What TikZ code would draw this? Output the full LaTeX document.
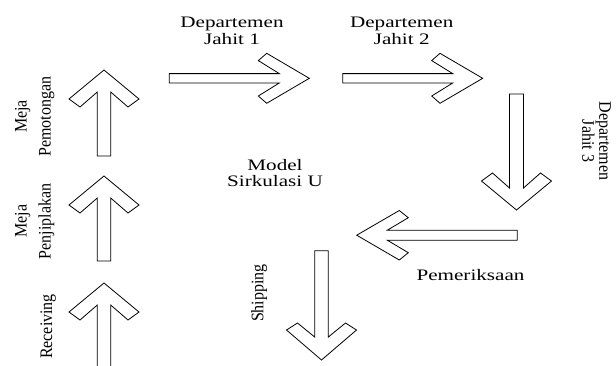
\documentclass[tikz,border=0pt]{standalone}
\usepackage{fontspec}
\setmainfont{Liberation Serif}
\usepackage{graphicx}

\tikzset{
  flowarrow/.style={draw=black, line width=0.8pt, line join=miter, fill=white},
  caption/.style={inner sep=0pt, anchor=base},
}
% horizontal caption: wide-set serif text, lines centred
\newcommand{\hcap}[2]{\scalebox{1.32}[1]{\fontsize{16}{#1}\selectfont\begin{tabular}[t]{@{}c@{}}#2\end{tabular}}}
% caption set along a vertical arrow
\newcommand{\vcap}[2]{\scalebox{1}[1.1]{\fontsize{16}{#1}\selectfont\begin{tabular}[t]{@{}c@{}}#2\end{tabular}}}

\begin{document}
\begin{tikzpicture}[x=1pt,y=-1pt]
\useasboundingbox (0,0) rectangle (616,365);

% --- left column: upward block arrows ---
% Meja Pemotongan
\draw[flowarrow] (104,70) -- (139,99) -- (128,107) -- (110.7,92) -- (110.7,156)
  -- (97.3,156) -- (97.3,92) -- (80,107) -- (69,99) -- cycle;
% Meja Penjiplakan
\draw[flowarrow] (104,176) -- (139,205) -- (128,213) -- (110.7,198) -- (110.7,261)
  -- (97.3,261) -- (97.3,198) -- (80,213) -- (69,205) -- cycle;
% Receiving (shaft runs off the bottom edge)
\draw[flowarrow] (104,283) -- (139,312) -- (128,320) -- (110.7,305) -- (110.7,372)
  -- (97.3,372) -- (97.3,305) -- (80,320) -- (69,312) -- cycle;

% --- top row: rightward block arrows ---
% Departemen Jahit 1
\draw[flowarrow] (309.3,78.3) -- (266.7,103.3) -- (258.3,96) -- (279.3,83) -- (169.3,83)
  -- (169.3,73.6) -- (279.3,73.6) -- (258.3,60.6) -- (266.7,53.3) -- cycle;
% Departemen Jahit 2
\draw[flowarrow] (482.7,78.3) -- (440,103.3) -- (431.7,96) -- (452.7,83) -- (342.7,83)
  -- (342.7,73.6) -- (452.7,73.6) -- (431.7,60.6) -- (440,53.3) -- cycle;

% --- right side: downward arrow (Departemen Jahit 3) ---
\draw[flowarrow] (516.5,210) -- (551.5,181) -- (540.5,173) -- (523.5,188) -- (523.5,94)
  -- (509.5,94) -- (509.5,188) -- (492.5,173) -- (481.5,181) -- cycle;

% --- leftward arrow (Pemeriksaan) ---
\draw[flowarrow] (356.7,235.2) -- (399.3,210.5) -- (408.3,217.7) -- (387.3,230.2) -- (517.3,230.2)
  -- (517.3,240.2) -- (387.3,240.2) -- (408.3,252.7) -- (399.3,260) -- cycle;

% --- downward arrow (Shipping) ---
\draw[flowarrow] (321.5,360) -- (356.5,330) -- (345.5,323) -- (328.3,337) -- (328.3,250.7)
  -- (314.7,250.7) -- (314.7,337) -- (297.5,323) -- (286.5,330) -- cycle;

% --- captions ---
\node[caption] (jahit1) at (232,27.3) {\hcap{17.2}{Departemen\\Jahit 1}};
\node[caption] (jahit2) at (401.7,27.3) {\hcap{17.2}{Departemen\\Jahit 2}};
\node[caption] (model) at (275,170) {\hcap{16.7}{Model\\Sirkulasi U}};
\node[caption] (periksa) at (470.5,280.5) {\hcap{17}{Pemeriksaan}};
\node[caption, rotate=90] (potong) at (26.7,116.5) {\vcap{21.8}{Meja\\Pemotongan}};
\node[caption, rotate=90] (jiplak) at (26.7,221.3) {\vcap{21.8}{Meja\\Penjiplakan}};
\node[caption, rotate=90] (receive) at (52,326.5) {\vcap{17}{Receiving}};
\node[caption, rotate=90] (ship) at (263.3,293) {\vcap{17}{Shipping}};
\node[caption, rotate=-90] (jahit3) at (599.3,141) {\vcap{14.5}{Departemen\\Jahit 3}};
\end{tikzpicture}
\end{document}
